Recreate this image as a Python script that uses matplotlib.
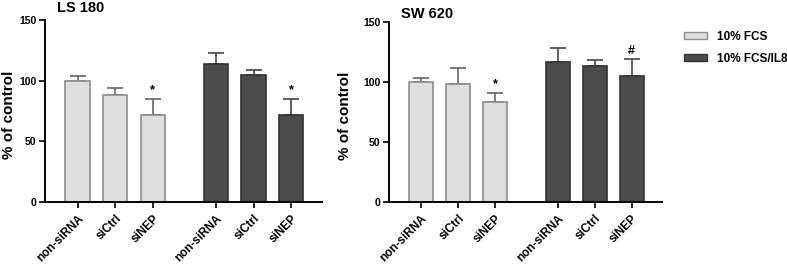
import matplotlib
matplotlib.use("Agg")
import matplotlib.pyplot as plt
from matplotlib.patches import Patch
import numpy as np

plt.rcParams['font.family'] = ['Liberation Sans', 'DejaVu Sans']
plt.rcParams['font.weight'] = 'bold'

labels = ['non-siRNA', 'siCtrl', 'siNEP', 'non-siRNA', 'siCtrl', 'siNEP']
groups = ['10% FCS', '10% FCS/IL8']

ls180_mean = [100, 88, 72, 114, 105, 72]
ls180_err = [4, 6, 13, 8.5, 4, 13]
ls180_marks = ['', '', '*', '', '', '*']

sw620_mean = [100, 98, 83, 117, 113, 105]
sw620_err = [3, 14, 8, 11, 5, 14]
sw620_marks = ['', '', '*', '', '', '#']

light = '#dedede'
light_edge = '#8c8c8c'
dark = '#4b4b4b'
dark_edge = '#333333'

xpos = np.array([0, 1, 2, 3.68, 4.68, 5.68])
colors = [light] * 3 + [dark] * 3
edges = [light_edge] * 3 + [dark_edge] * 3
errc = ['#666666'] * 3 + ['#444444'] * 3


def panel(ax, title, mean, err, marks, lab_x, title_pad):
    ax.bar(xpos, mean, width=0.65, color=colors, edgecolor=edges, linewidth=1.2, zorder=2)
    for x, m, e, c in zip(xpos, mean, err, errc):
        ax.errorbar(x, m, yerr=[[0], [e]], fmt='none', ecolor=c, elinewidth=1.2,
                    capsize=6, capthick=1.2, zorder=1)
    for x, m, e, s in zip(xpos, mean, err, marks):
        if s:
            ax.text(x, m + e + 2, s, ha='center', va='bottom', fontsize=9, fontweight='bold')
    ax.set_ylim(0, 150)
    ax.set_xlim(-0.87, 6.5)
    ax.set_yticks([0, 50, 100, 150])
    ax.set_xticks(xpos)
    ax.set_xticklabels(labels, rotation=45, ha='right', rotation_mode='anchor', fontsize=8.5)
    ax.tick_params(axis='y', labelsize=7.5, length=4, width=1.2, pad=2)
    ax.tick_params(axis='x', length=4, width=1.2)
    ax.spines['top'].set_visible(False)
    ax.spines['right'].set_visible(False)
    ax.spines['left'].set_linewidth(1.4)
    ax.spines['bottom'].set_linewidth(1.4)
    ax.set_ylabel('% of control', fontsize=11, fontweight='bold')
    ax.yaxis.set_label_coords(lab_x, 0.48)
    ax.set_title(title, loc='left', x=0.045, fontsize=10.5, fontweight='bold', pad=title_pad)


fig = plt.figure(figsize=(7.87, 2.66), dpi=100)
ax1 = fig.add_axes([45 / 787, 64 / 266, 277 / 787, 182 / 266])
ax2 = fig.add_axes([389 / 787, 64 / 266, 273 / 787, 180 / 266])

panel(ax1, 'LS 180', ls180_mean, ls180_err, ls180_marks, -0.105, 6)
panel(ax2, 'SW 620', sw620_mean, sw620_err, sw620_marks, -0.135, 3)

handles = [Patch(facecolor=light, edgecolor=light_edge), Patch(facecolor=dark, edgecolor=dark_edge)]
fig.legend(handles, groups, loc='upper left', bbox_to_anchor=(673 / 787, 1 - 20 / 266),
           frameon=False, handlelength=2.0, handleheight=0.5,
           handletextpad=0.8, labelspacing=0.85, prop={'weight': 'bold', 'size': 8.5})

fig.savefig('out.png', dpi=100)
